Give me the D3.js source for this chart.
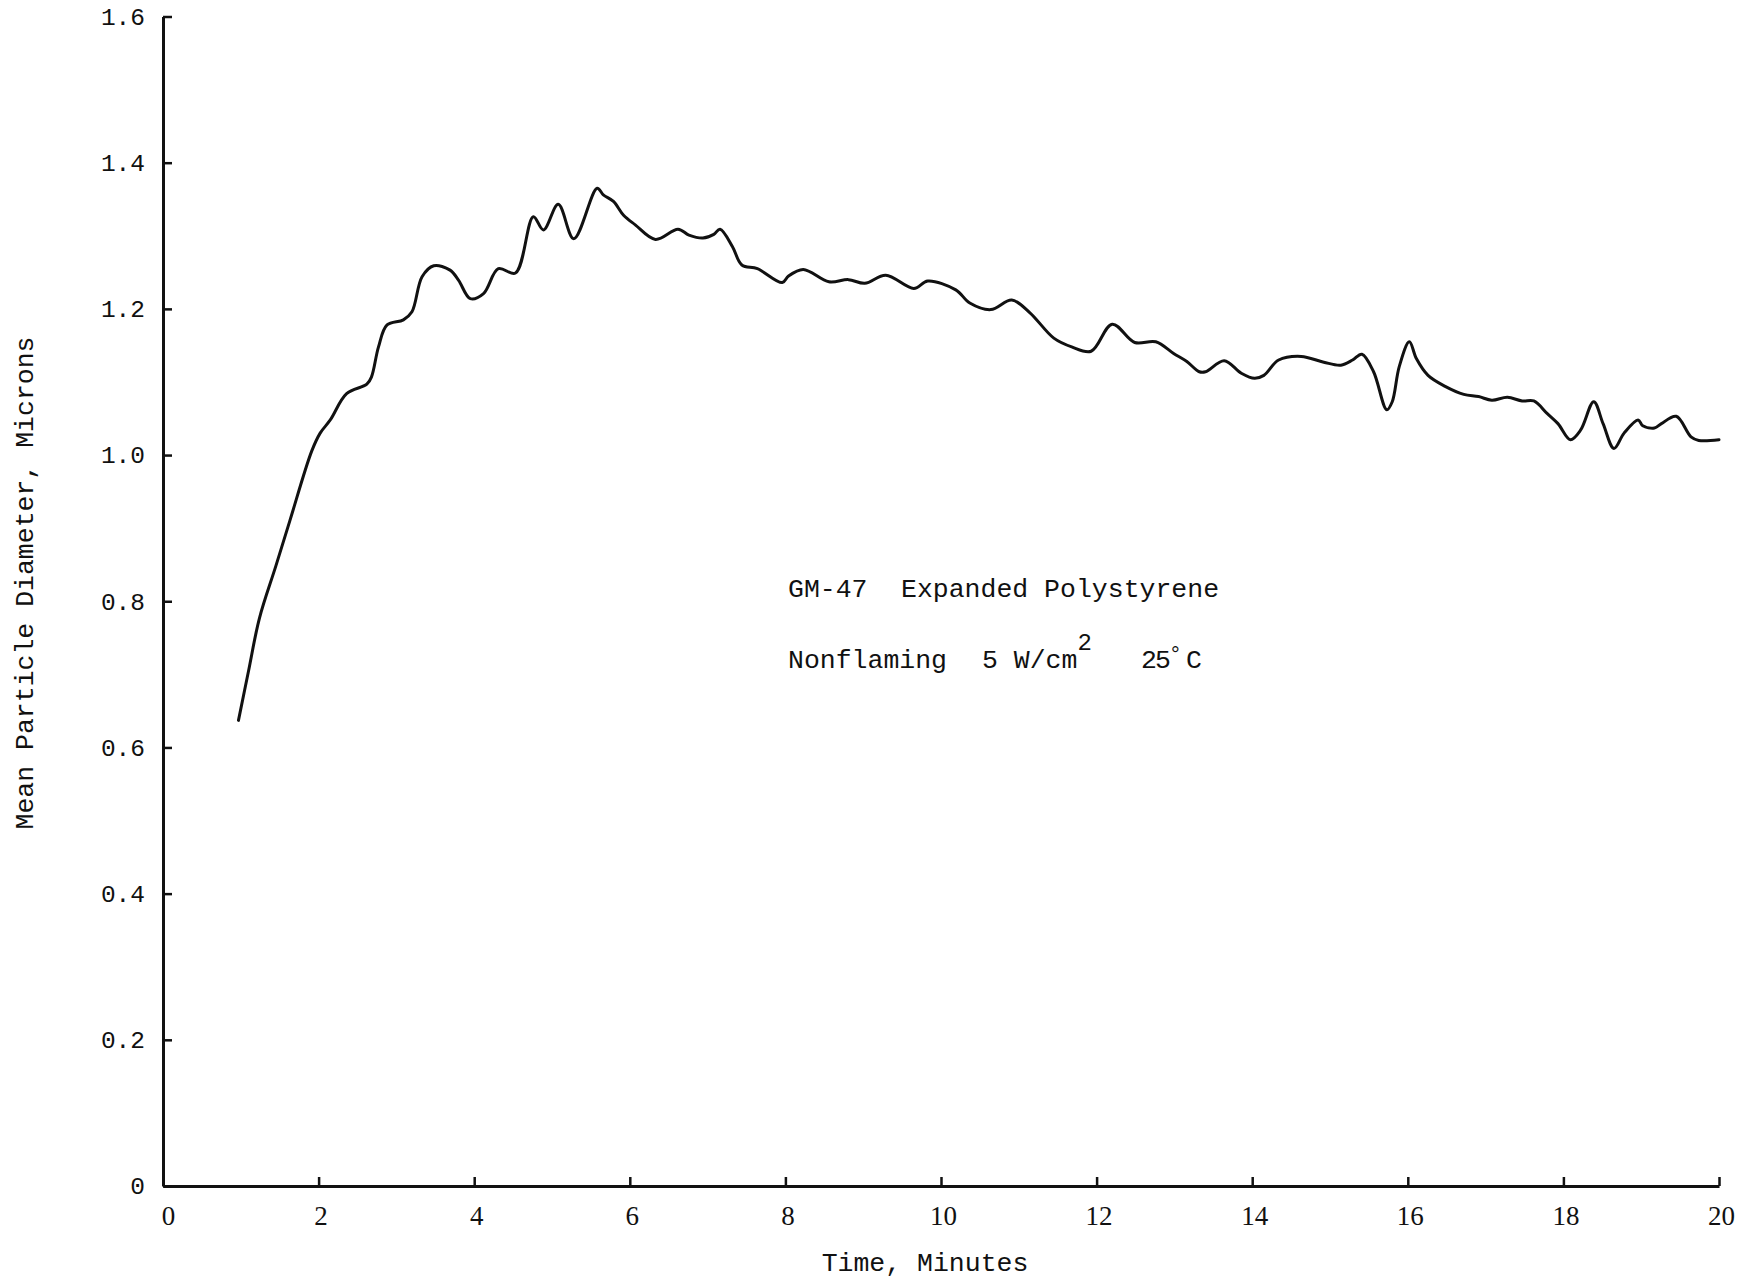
<!DOCTYPE html>
<html>
<head>
<meta charset="utf-8">
<script src="https://cdn.jsdelivr.net/npm/d3@7"></script>
<style>
  html, body { margin: 0; padding: 0; background: #fff; }
  svg { display: block; }
  .mono { font-family: "Courier New", "Liberation Mono", "DejaVu Sans Mono", monospace; fill: #111; }
  .serif { font-family: "Liberation Serif", "DejaVu Serif", serif; fill: #111; }
</style>
</head>
<body>
<svg id="chart" width="1741" height="1278"></svg>
<script>
// Time (minutes) of each reading
const timeMin = [
  0.97, 1.10, 1.24, 1.45, 1.63, 1.91, 2.02, 2.15, 2.36, 2.62, 2.68, 2.77, 2.88,
  3.09, 3.20, 3.33, 3.48, 3.69, 3.80, 3.95, 4.12, 4.31, 4.53,
  4.76, 4.89, 5.08, 5.28, 5.58, 5.66, 5.79, 5.92, 6.07, 6.33,
  6.62, 6.76, 6.94, 7.08, 7.16, 7.32, 7.44, 7.64, 7.96, 8.04,
  8.23, 8.56, 8.81, 9.02, 9.29, 9.65, 9.83, 10.19, 10.37, 10.64,
  10.91, 11.14, 11.45, 11.68, 11.93, 12.20, 12.49, 12.76, 12.99, 13.16,
  13.32, 13.40, 13.64, 13.86, 14.03, 14.15, 14.34, 14.63, 14.92, 15.14,
  15.29, 15.41, 15.56, 15.73, 15.80, 15.89, 16.02, 16.11, 16.26, 16.48,
  16.72, 16.91, 17.08, 17.28, 17.47, 17.62, 17.79, 17.93, 18.09, 18.22,
  18.39, 18.51, 18.65, 18.78, 18.96, 19.02, 19.17, 19.26, 19.45, 19.64,
  19.74, 20.00
];

// Mean particle diameter (microns) at each time
const diameterMicrons = [
  0.637, 0.705, 0.777, 0.848, 0.910, 1.005, 1.030, 1.048, 1.084, 1.097, 1.107, 1.148, 1.178,
  1.185, 1.196, 1.244, 1.259, 1.253, 1.239, 1.214, 1.221, 1.255, 1.249,
  1.326, 1.308, 1.343, 1.296, 1.365, 1.356, 1.347, 1.328, 1.315, 1.295,
  1.309, 1.301, 1.297, 1.302, 1.309, 1.285, 1.260, 1.255, 1.236, 1.245,
  1.254, 1.237, 1.240, 1.235, 1.246, 1.228, 1.238, 1.226, 1.208, 1.199,
  1.212, 1.195, 1.160, 1.148, 1.142, 1.179, 1.154, 1.155, 1.139, 1.128,
  1.114, 1.114, 1.129, 1.112, 1.105, 1.109, 1.130, 1.135, 1.127, 1.123,
  1.130, 1.138, 1.114, 1.062, 1.073, 1.121, 1.155, 1.132, 1.109, 1.094,
  1.083, 1.080, 1.075, 1.079, 1.074, 1.074, 1.057, 1.043, 1.021, 1.034,
  1.073, 1.043, 1.009, 1.030, 1.048, 1.040, 1.037, 1.043, 1.053, 1.025,
  1.020, 1.021
];

// Axis ticks and their labels
const xTicks = [0, 2, 4, 6, 8, 10, 12, 14, 16, 18, 20];
const xTickLabels = ["0", "2", "4", "6", "8", "10", "12", "14", "16", "18", "20"];
const yTicks = [0, 0.2, 0.4, 0.6, 0.8, 1.0, 1.2, 1.4, 1.6];
const yTickLabels = ["0", "0.2", "0.4", "0.6", "0.8", "1.0", "1.2", "1.4", "1.6"];

const xTitle = "Time, Minutes";
const yTitle = "Mean Particle Diameter, Microns";

const svg = d3.select("#chart");

const x = d3.scaleLinear().domain([0, 20]).range([163, 1719]);
const y = d3.scaleLinear().domain([0, 1.6]).range([1186, 16.5]);

// X axis: ticks point up into the plot
const xAxis = d3.axisBottom(x)
  .tickValues(xTicks)
  .tickFormat((d, i) => xTickLabels[i])
  .tickSizeInner(-9)
  .tickSizeOuter(0)
  .tickPadding(20);

const gx = svg.append("g")
  .attr("transform", `translate(0,${y(0)})`)
  .call(xAxis);
gx.select(".domain").attr("stroke", "#111").attr("stroke-width", 3);
gx.selectAll(".tick line").attr("stroke", "#111").attr("stroke-width", 2.5);
gx.selectAll(".tick text")
  .attr("class", "serif")
  .attr("font-size", 27)
  .attr("fill", "#111")
  .attr("dx", d => (d === 0 ? 5 : 2));

// Y axis: ticks point right into the plot
const yAxis = d3.axisLeft(y)
  .tickValues(yTicks)
  .tickFormat((d, i) => yTickLabels[i])
  .tickSizeInner(-9)
  .tickSizeOuter(0)
  .tickPadding(18);

const gy = svg.append("g")
  .attr("transform", `translate(${x(0)},0)`)
  .call(yAxis);
gy.select(".domain").attr("stroke", "#111").attr("stroke-width", 3);
gy.selectAll(".tick line").attr("stroke", "#111").attr("stroke-width", 2.5);
gy.selectAll(".tick text")
  .attr("class", "mono")
  .attr("font-size", 24.5)
  .attr("fill", "#111");

// Axis titles
svg.append("text")
  .attr("class", "mono")
  .attr("x", 925)
  .attr("y", 1271)
  .attr("text-anchor", "middle")
  .attr("font-size", 26.5)
  .text(xTitle);

svg.append("text")
  .attr("class", "mono")
  .attr("transform", "translate(33,583) rotate(-90)")
  .attr("text-anchor", "middle")
  .attr("font-size", 26.5)
  .text(yTitle);

// Data curve
const pts = timeMin.map((t, i) => [t, diameterMicrons[i]]);
const line = d3.line()
  .x(d => x(d[0]))
  .y(d => y(d[1]))
  .curve(d3.curveCatmullRom.alpha(0.5));

svg.append("path")
  .datum(pts)
  .attr("fill", "none")
  .attr("stroke", "#111")
  .attr("stroke-width", 3)
  .attr("stroke-linejoin", "round")
  .attr("stroke-linecap", "round")
  .attr("d", line);

// Annotation
const note = svg.append("g").attr("class", "mono").attr("font-size", 26.5);
note.append("text").attr("x", 788).attr("y", 597).text("GM-47");
note.append("text").attr("x", 901).attr("y", 597).text("Expanded Polystyrene");
note.append("text").attr("x", 788).attr("y", 668).text("Nonflaming");

const flux = note.append("text").attr("x", 982).attr("y", 668);
flux.append("tspan").text("5 W/cm");
flux.append("tspan").attr("dy", -18).attr("font-size", 24).text("2");

const temp = note.append("text").attr("x", 1141).attr("y", 668);
temp.append("tspan").attr("letter-spacing", -2).text("25");
temp.append("tspan").attr("dy", -7).attr("font-size", 22).text("°");
temp.append("tspan").attr("dy", 7).attr("dx", 4).text("C");
</script>
</body>
</html>
